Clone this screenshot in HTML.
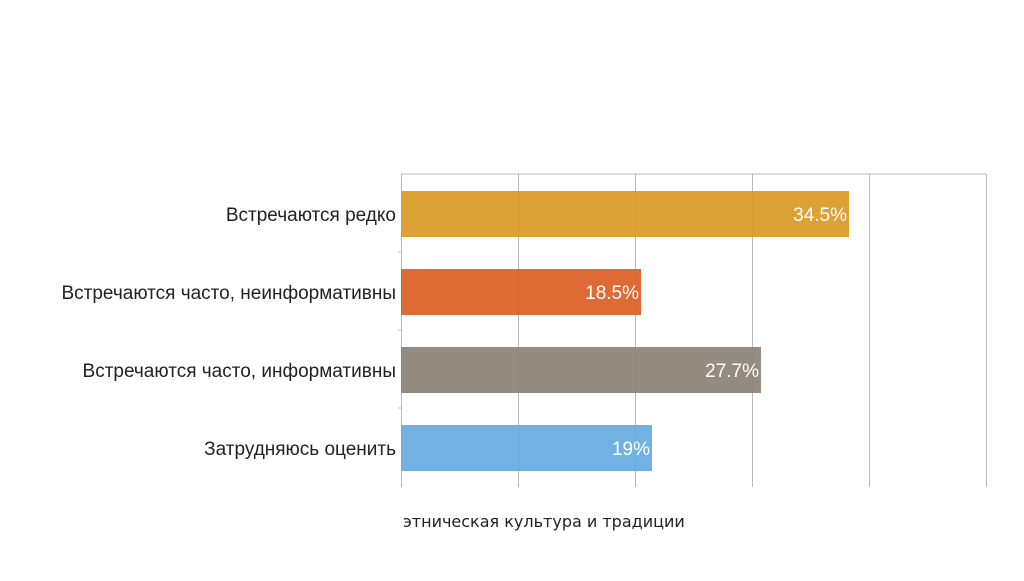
<!DOCTYPE html>
<html><head><meta charset="utf-8"><style>body{margin:0;background:#fff}</style></head><body>
<svg width="1024" height="576" xmlns="http://www.w3.org/2000/svg" font-family="Liberation Sans, DejaVu Sans, sans-serif">
<rect width="1024" height="576" fill="#fff"/>
<g stroke="#bbbbbb" stroke-width="1">
<line x1="401" y1="174" x2="986" y2="174"/>
<line x1="518.5" y1="174" x2="518.5" y2="487"/>
<line x1="635.5" y1="174" x2="635.5" y2="487"/>
<line x1="752.5" y1="174" x2="752.5" y2="487"/>
<line x1="869.5" y1="174" x2="869.5" y2="487"/>
<line x1="986.5" y1="174" x2="986.5" y2="487"/>
<line x1="401.5" y1="174" x2="401.5" y2="487"/>
<line x1="398" y1="252" x2="401" y2="252"/>
<line x1="398" y1="330" x2="401" y2="330"/>
<line x1="398" y1="408" x2="401" y2="408"/>
</g>
<g opacity="0.93">
<rect x="401" y="191" width="448" height="46" fill="#d99b26"/>
<rect x="401" y="269" width="240" height="46" fill="#dc5f26"/>
<rect x="401" y="347" width="360" height="46" fill="#8d8478"/>
<rect x="401" y="425" width="251" height="46" fill="#68ade0"/>
</g>
<g fill="#fff" font-size="19" text-anchor="end">
<text x="847" y="221">34.5%</text>
<text x="639" y="299">18.5%</text>
<text x="759" y="377">27.7%</text>
<text x="650" y="455">19%</text>
</g>
<g fill="#222" font-size="19" text-anchor="end">
<text x="396" y="221">Встречаются редко</text>
<text x="396" y="299">Встречаются часто, неинформативны</text>
<text x="396" y="377">Встречаются часто, информативны</text>
<text x="396" y="455">Затрудняюсь оценить</text>
</g>
<text x="403" y="527" font-size="16" fill="#222" font-family="DejaVu Sans, sans-serif">этническая культура и традиции</text>
</svg>
</body></html>
